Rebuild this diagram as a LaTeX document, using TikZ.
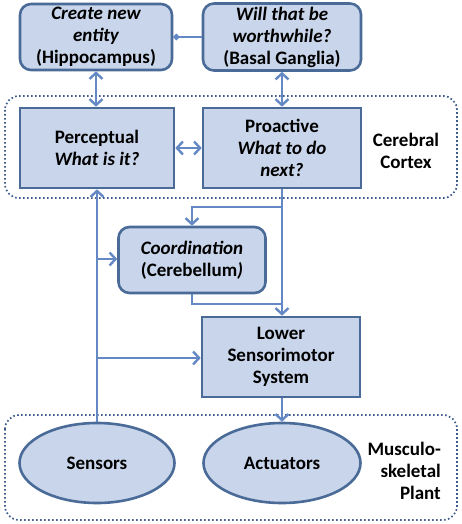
\documentclass[tikz,border=0pt]{standalone}
\usepackage{fontspec}
\setmainfont{Carlito}
\usetikzlibrary{arrows.meta,shapes.geometric}
\definecolor{boxfill}{HTML}{C9D5EA}
\definecolor{boxline}{HTML}{4A6A98}
\definecolor{arrcol}{HTML}{6388C4}
\definecolor{dotcol}{HTML}{3D5C8C}
\tikzset{
  base/.style={draw=boxline, fill=boxfill, line width=2.6pt, align=center,
    font=\fontsize{19}{22}\selectfont\bfseries, inner sep=1pt},
  rbox/.style={base, rectangle, rounded corners=11pt},
  sbox/.style={base, rectangle},
  ebox/.style={base, ellipse},
  conn/.style={draw=arrcol, line width=2.4pt},
  tip/.style={},
  arr/.style={conn, -{Straight Barb[length=6pt,width=13pt,line width=2.4pt]}},
  darr/.style={conn, {Straight Barb[length=6pt,width=13pt,line width=2.4pt]}-{Straight Barb[length=6pt,width=13pt,line width=2.4pt]}},
  frame/.style={draw=dotcol, line width=1.7pt, dash pattern=on 1.6pt off 2.4pt, rounded corners=14pt},
  lbl/.style={font=\fontsize{19}{22}\selectfont\bfseries, inner sep=0pt}
}
\begin{document}
\begin{tikzpicture}[x=1pt,y=-1pt]
\useasboundingbox (0,0) rectangle (461,524);
% frames
\draw[frame] (5,96) rectangle (457,198);
\draw[frame] (5,415) rectangle (457,520);
% nodes
\node[rbox, minimum width=152pt, minimum height=66pt] (hippo) at (96,37) {\itshape Create new\\ \itshape entity\\(Hippocampus)};
\node[rbox, minimum width=158pt, minimum height=67pt] (basal) at (282,37) {\itshape Will that be\\ \itshape worthwhile?\\(Basal Ganglia)};
\node[sbox, minimum width=154pt, minimum height=80pt] (percept) at (97,148) {Perceptual\\ \itshape What is it?};
\node[sbox, minimum width=158pt, minimum height=80pt] (proact) at (282,148) {Proactive\\ \itshape What to do\\ \itshape next?};
\node[rbox, minimum width=147pt, minimum height=66pt] (coord) at (192,260) {\itshape Coordination\\(Cerebellum\textit{)}};
\node[sbox, minimum width=158pt, minimum height=80pt] (lower) at (281,357) {Lower\\Sensorimotor\\System};
\node[ebox, minimum width=155pt, minimum height=80pt] (sensors) at (97,463) {Sensors};
\node[ebox, minimum width=157pt, minimum height=80pt] (actuators) at (282,463) {Actuators};
\node[lbl, align=center] (cortex) at (406,151) {Cerebral\\Cortex};
\node[lbl, align=right, anchor=east] (plant) at (441,471) {Musculo-\\skeletal\\Plant};
% connectors
\draw[conn, {Circle[length=6pt]}-] (hippo.east) -- (basal.west);
\draw[darr] (hippo.south) -- (hippo.south |- percept.north);
\draw[darr] (basal.south) -- (basal.south |- proact.north);
\draw[darr] (percept.east) -- (proact.west);
\coordinate (j1) at (282,207);
\coordinate (j2) at (282,304);
\draw[arr] (proact.south) -- (proact.south |- lower.north);
\draw[arr] (j1) -| (coord.north);
\draw[conn] (coord.south) |- (j2);
\draw[arr] (sensors.north) -- (sensors.north |- percept.south);
\coordinate (b1) at (97,259);
\coordinate (b2) at (97,358);
\draw[arr] (b1) -- (b1 -| coord.west);
\draw[arr] (b2) -- (b2 -| lower.west);
\draw[arr] (lower.south -| actuators.north) -- (actuators.north);
\end{tikzpicture}
\end{document}
